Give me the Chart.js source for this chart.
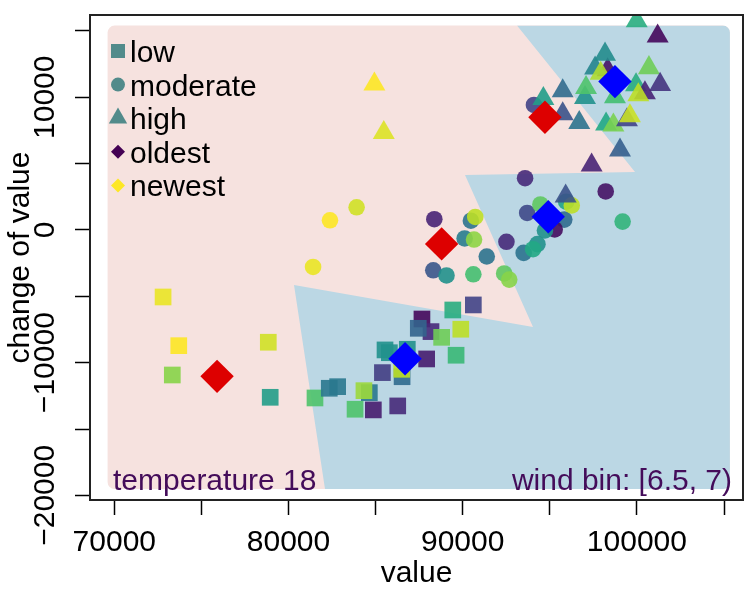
<!DOCTYPE html>
<html>
<head>
<meta charset="utf-8">
<script src="https://cdn.jsdelivr.net/npm/chart.js@4.4.0/dist/chart.umd.min.js"></script>
<style>
  html, body { margin: 0; padding: 0; background: #fff; }
  canvas { display: block; }
</style>
</head>
<body>
<canvas id="chart" width="750" height="600"></canvas>
<script>
// ---- axes ----
const xMin = 68605, xMax = 106090;
const yMin = -20350, yMax = 16200;
const xTicks = [70000, 75000, 80000, 85000, 90000, 95000, 100000, 105000];
const xLabels = [70000, 80000, 90000, 100000];
const yTicks = [-20000, -15000, -10000, -5000, 0, 5000, 10000, 15000];
const yLabels = [-20000, -10000, 0, 10000];

// ---- points: value, change of value, age (0 = oldest, 1 = newest) ----
const lowValue = [72800, 73700, 73330, 78840, 78950, 81520, 82340, 82820, 84640, 84330,
  83820, 84870, 86270, 85390, 85540, 85790, 86820, 86520, 86500, 87930,
  87660, 88180, 87450, 88790, 89890, 89620, 89430, 90610];
const lowChange = [-5050, -8720, -10930, -8460, -12610, -12660, -11930, -11810, -12260, -12110,
  -13510, -13560, -13260, -10750, -9040, -9250, -8990, -11060, -10500, -9720,
  -6710, -7660, -7410, -8090, -7480, -9440, -6030, -5650];
const lowAge = [0.97, 1.0, 0.82, 0.93, 0.55, 0.72, 0.40, 0.40, 0.40, 0.85,
  0.72, 0.08, 0.12, 0.18, 0.50, 0.50, 0.50, 0.35, 0.90, 0.08,
  0.02, 0.12, 0.32, 0.78, 0.90, 0.67, 0.62, 0.20];

const modValue = [81410, 82380, 83910, 88370, 88310, 89070, 90470, 90720, 90110, 90650,
  91380, 90610, 92380, 92670, 92510, 93580, 93700, 94460, 95830, 95940,
  96260, 95280, 94720, 93500, 94290, 94040, 98210, 99180, 94090];
const modChange = [-2790, 730, 1710, 810, -3040, -3430, 700, 980, -640, -720,
  -2000, -3340, -3280, -3740, -890, 3900, 1280, 1920, 780, 2130,
  1850, 40, -40, -1730, -1070, -1450, 2900, 630, 9420];
const modAge = [0.97, 1.0, 0.93, 0.10, 0.27, 0.50, 0.38, 0.90, 0.42, 0.83,
  0.38, 0.70, 0.75, 0.82, 0.12, 0.12, 0.22, 0.75, 0.35, 0.58,
  0.90, 0.03, 0.50, 0.38, 0.50, 0.60, 0.05, 0.65, 0.20];

const highValue = [84930, 85470, 97400, 95910, 99030, 99990, 101190, 98320, 97600, 98170,
  97920, 100690, 101330, 99950, 100460, 100080, 95740, 97020, 97080, 98740,
  94630, 95740, 96690, 98230, 98650, 99430, 99600];
const highChange = [10980, 7330, 4880, 2550, 6010, 15750, 14600, 12060, 12190, 13240,
  11790, 12220, 10960, 10930, 10320, 10170, 10480, 9970, 10720, 10020,
  9890, 8750, 8090, 7970, 7890, 8290, 8590];
const highAge = [1.0, 0.95, 0.10, 0.25, 0.30, 0.62, 0.02, 0.05, 0.45, 0.48,
  0.88, 0.78, 0.15, 0.62, 0.10, 0.90, 0.35, 0.50, 0.72, 0.70,
  0.55, 0.25, 0.38, 0.60, 0.80, 0.20, 0.92];

// ---- group centres ----
const redValue = [75900, 88790, 94720];
const redChange = [-11030, -1050, 8490];
const blueValue = [86690, 94910, 98740];
const blueChange = [-9700, 1000, 11180];

// ---- shaded regions ----
const fieldValue = [69615, 105340];
const fieldChange = [-19520, 15400];
const regionValue = [93117, 99891, 90132, 94036, 80316, 82095, 105340, 105340];
const regionChange = [15400, 4371, 4145, -7310, -4145, -19520, -19520, 15400];

// ---- legend ----
const legendLabels = ['low', 'moderate', 'high', 'oldest', 'newest'];
const legendShapes = ['rect', 'circle', 'triangle', 'diamond', 'diamond'];

const FONT = "'Liberation Sans', Arial, Helvetica, sans-serif";
const VIRIDIS = ['#440154', '#482475', '#414487', '#355f8d', '#2a788e', '#21918c',
  '#22a884', '#44bf70', '#7ad151', '#bddf26', '#fde725'];

function hexToRgb(h) {
  return [1, 3, 5].map((i) => parseInt(h.slice(i, i + 2), 16));
}

function viridis(t, alpha) {
  const p = Math.max(0, Math.min(1, t)) * 10;
  const i = Math.min(9, Math.floor(p));
  const f = p - i;
  const a = hexToRgb(VIRIDIS[i]);
  const b = hexToRgb(VIRIDIS[i + 1]);
  const c = a.map((v, k) => Math.round(v + (b[k] - v) * f));
  return `rgba(${c[0]},${c[1]},${c[2]},${alpha})`;
}

function makePoints(xs, ys) {
  return xs.map((x, i) => ({ x, y: ys[i] }));
}

function formatNumber(v) {
  return v < 0 ? "\u2212" + Math.abs(v) : String(v);
}

const legendColors = ['#528b8b', '#528b8b', '#528b8b', viridis(0, 1), viridis(1, 1)];

function glyph(ctx, shape, x, y) {
  ctx.beginPath();
  if (shape === 'rect') {
    ctx.rect(x - 7, y - 7, 14, 14);
  } else if (shape === 'circle') {
    ctx.arc(x, y, 7, 0, Math.PI * 2);
  } else if (shape === 'triangle') {
    const r = 10.6;
    ctx.moveTo(x, y - r);
    ctx.lineTo(x + r * 0.866, y + r / 2);
    ctx.lineTo(x - r * 0.866, y + r / 2);
    ctx.closePath();
  } else {
    ctx.moveTo(x, y - 7);
    ctx.lineTo(x + 7, y);
    ctx.lineTo(x, y + 7);
    ctx.lineTo(x - 7, y);
    ctx.closePath();
  }
  ctx.fill();
}

const regionPlugin = {
  id: 'regions',
  beforeDatasetsDraw(chart) {
    const { ctx, scales: { x, y } } = chart;
    const left = x.getPixelForValue(fieldValue[0]);
    const right = x.getPixelForValue(fieldValue[1]);
    const top = y.getPixelForValue(fieldChange[1]);
    const bottom = y.getPixelForValue(fieldChange[0]);
    ctx.save();
    ctx.beginPath();
    if (ctx.roundRect) {
      ctx.roundRect(left, top, right - left, bottom - top, 7);
    } else {
      ctx.rect(left, top, right - left, bottom - top);
    }
    ctx.fillStyle = '#f6e2df';
    ctx.fill();
    ctx.clip();
    ctx.beginPath();
    regionValue.forEach((v, i) => {
      const px = x.getPixelForValue(v);
      const py = y.getPixelForValue(regionChange[i]);
      if (i === 0) ctx.moveTo(px, py);
      else ctx.lineTo(px, py);
    });
    ctx.closePath();
    ctx.fillStyle = '#bbd7e4';
    ctx.fill();
    ctx.restore();
  },
};

const framePlugin = {
  id: 'frame',
  afterDraw(chart) {
    const { ctx, chartArea: a } = chart;
    ctx.save();

    ctx.font = `30px ${FONT}`;
    ctx.textBaseline = 'alphabetic';
    ctx.fillStyle = '#440c5a';
    ctx.textAlign = 'left';
    ctx.fillText('temperature 18', a.left + 23, a.bottom - 10);
    ctx.textAlign = 'right';
    ctx.fillText('wind bin: [6.5, 7)', a.right - 11, a.bottom - 10);

    ctx.textAlign = 'left';
    legendLabels.forEach((label, i) => {
      const base = a.top + 47 + i * 33.6;
      ctx.fillStyle = legendColors[i];
      glyph(ctx, legendShapes[i], 118, base - 11);
      ctx.fillStyle = '#000';
      ctx.fillText(label, 130, base);
    });

    ctx.strokeStyle = '#222';
    ctx.lineWidth = 2;
    ctx.strokeRect(a.left, a.top, a.right - a.left, a.bottom - a.top);
    ctx.restore();
  },
};

Chart.defaults.font.family = FONT;
Chart.defaults.font.size = 30;
Chart.defaults.color = '#000';

const common = { pointBorderWidth: 0, pointHoverBorderWidth: 0 };
const ALPHA = 0.9;

const datasets = [
  { ...common, label: 'red', data: makePoints(redValue, redChange), pointStyle: 'rectRot',
    pointRadius: 16.7, pointHoverRadius: 16.7, pointBackgroundColor: '#dd0000', order: 0 },
  { ...common, label: 'blue', data: makePoints(blueValue, blueChange), pointStyle: 'rectRot',
    pointRadius: 16.7, pointHoverRadius: 16.7, pointBackgroundColor: '#0000ff', order: 0 },
  { ...common, label: 'high', data: makePoints(highValue, highChange), pointStyle: 'triangle',
    pointRadius: 12.7, pointHoverRadius: 12.7,
    pointBackgroundColor: highAge.map((a) => viridis(a, ALPHA)), order: 1 },
  { ...common, label: 'moderate', data: makePoints(modValue, modChange), pointStyle: 'circle',
    pointRadius: 8.3, pointHoverRadius: 8.3,
    pointBackgroundColor: modAge.map((a) => viridis(a, ALPHA)), order: 2 },
  { ...common, label: 'low', data: makePoints(lowValue, lowChange), pointStyle: 'rect',
    pointRadius: 11.8, pointHoverRadius: 11.8,
    pointBackgroundColor: lowAge.map((a) => viridis(a, ALPHA)), order: 3 },
];

new Chart(document.getElementById('chart'), {
  type: 'scatter',
  data: { datasets },
  options: {
    responsive: false,
    animation: false,
    devicePixelRatio: 1,
    events: [],
    layout: { autoPadding: false, padding: { top: 15, right: 7, left: 0, bottom: 0 } },
    plugins: { legend: { display: false }, tooltip: { enabled: false } },
    scales: {
      x: {
        type: 'linear',
        min: xMin,
        max: xMax,
        afterBuildTicks: (scale) => { scale.ticks = xTicks.map((v) => ({ value: v })); },
        afterFit: (scale) => {
          scale.height = 100;
          scale.paddingLeft = 0;
          scale.paddingRight = 0;
        },
        border: { display: false },
        grid: { drawOnChartArea: false, drawTicks: true, tickLength: 15, tickWidth: 1.5, tickColor: '#000' },
        ticks: {
          autoSkip: false,
          maxRotation: 0,
          padding: 10,
          callback: (v) => (xLabels.includes(v) ? formatNumber(v) : ''),
        },
        title: { display: true, text: 'value', font: { size: 30, lineHeight: 1.2 }, padding: { top: 0, bottom: 8 } },
      },
      y: {
        type: 'linear',
        min: yMin,
        max: yMax,
        afterBuildTicks: (scale) => { scale.ticks = yTicks.map((v) => ({ value: v })); },
        afterFit: (scale) => {
          scale.width = 90;
          scale.paddingTop = 0;
          scale.paddingBottom = 0;
        },
        border: { display: false },
        grid: { drawOnChartArea: false, drawTicks: true, tickLength: 15, tickWidth: 1.5, tickColor: '#000' },
        ticks: {
          autoSkip: false,
          minRotation: 90,
          maxRotation: 90,
          crossAlign: 'center',
          padding: -21.5,
          callback: (v) => (yLabels.includes(v) ? formatNumber(v) : ''),
        },
        title: { display: true, text: 'change of value', font: { size: 30, lineHeight: 1.2 }, padding: { top: 3, bottom: 0 } },
      },
    },
  },
  plugins: [regionPlugin, framePlugin],
});
</script>
</body>
</html>
